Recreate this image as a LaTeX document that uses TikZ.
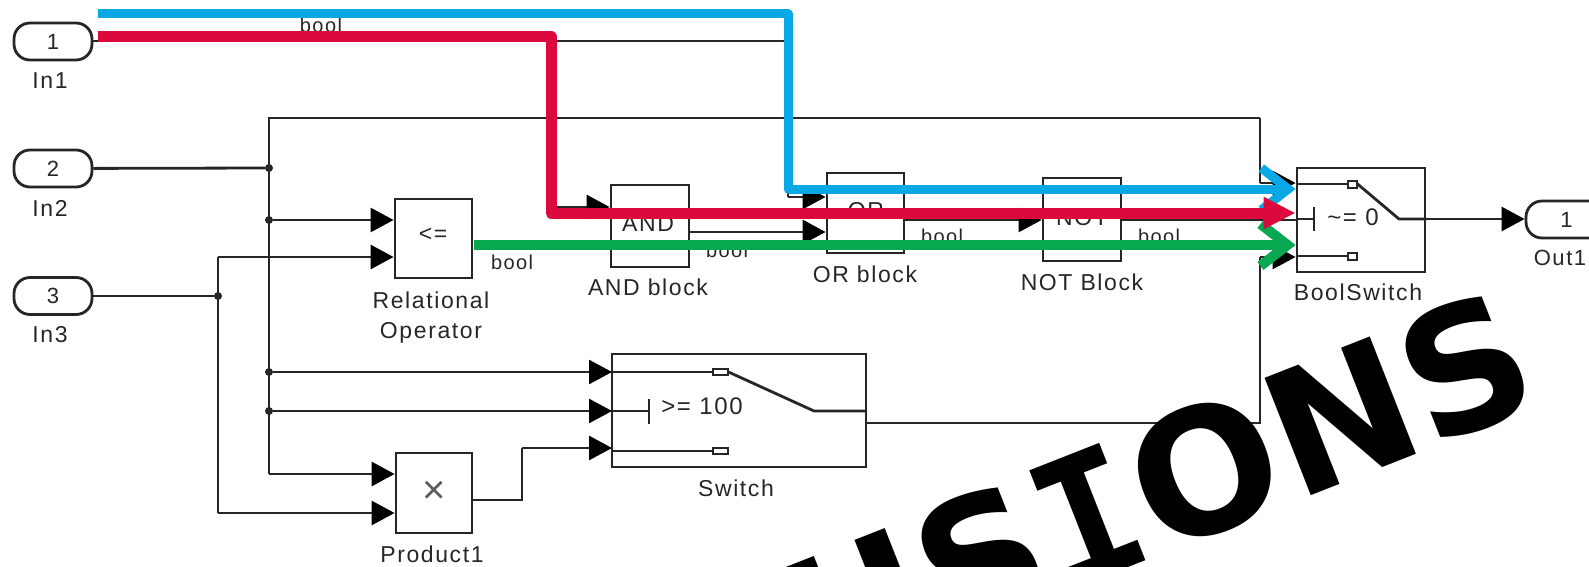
\documentclass[tikz,border=0pt]{standalone}
\usepackage{fontspec}
\setmainfont{Liberation Sans}[LetterSpace=7]
\newfontfamily\wmfont{DejaVu Sans}
\newfontfamily\wmmono{DejaVu Sans Mono}
\usetikzlibrary{arrows.meta}
\definecolor{ink}{HTML}{262626}
\definecolor{cblue}{HTML}{0BA8E6}
\definecolor{cred}{HTML}{DC0A3C}
\definecolor{cgreen}{HTML}{08A850}
\tikzset{
  wire/.style={draw=ink,line width=2.8pt},
  arr/.style={wire,-{Triangle[length=23pt,width=24pt,color=black]}},
  blk/.style={draw=ink,line width=2.8pt,fill=white,inner sep=0pt},
  pill/.style={draw=ink,line width=2.8pt,rounded corners=16pt,minimum width=78pt,minimum height=37pt,inner sep=0pt,text=ink,font=\fontsize{22}{24}\selectfont},
  lbl/.style={text=ink,inner sep=0pt,font=\fontsize{23}{26}\selectfont},
  tag/.style={text=ink,inner sep=0pt,font=\fontsize{20}{24}\selectfont},
  port/.style={draw=ink,line width=2pt,fill=white,minimum width=15pt,minimum height=6pt,inner sep=0pt},
  dot/.style={circle,fill=ink,minimum size=8pt,inner sep=0pt},
  thick line/.style={line cap=butt,line join=round},
  barb/.style={thick line,-{Straight Barb[length=27pt,width=42pt]}},
}
\begin{document}
\begin{tikzpicture}[x=1pt,y=-1pt]
\useasboundingbox (0,0) rectangle (1589,567);
\clip (0,0) rectangle (1589,567);
% input / output ports
\node[pill] (in1) at (53,41.5) {1};
\node[pill] (in2) at (53,168.5) {2};
\node[pill] (in3) at (53,296) {3};
\node[pill,minimum width=90pt] (out1) at (1571,219.5) {\hspace*{-9pt}1};
\node[lbl] (lin1) at (50,81) {In1};
\node[lbl] (lin2) at (50,208) {In2};
\node[lbl] (lin3) at (50,335) {In3};
\node[lbl,font=\fontsize{22}{26}\selectfont] (lout1) at (1560,258) {Out1};
% blocks
\node[blk,minimum width=77pt,minimum height=79pt] (rel) at (433.5,238.5) {};
\node[blk,minimum width=78pt,minimum height=82pt] (and) at (650,226) {};
\node[blk,minimum width=77pt,minimum height=80pt] (or) at (865.5,213) {};
\node[blk,minimum width=78pt,minimum height=83pt] (not) at (1082,219.5) {};
\node[blk,minimum width=128pt,minimum height=104pt] (bsw) at (1361,220) {};
\node[blk,minimum width=254pt,minimum height=113pt] (sw) at (739,410.5) {};
\node[blk,minimum width=76pt,minimum height=80pt] (prod) at (434,493) {};
% block texts
\node[lbl] (trel) at (433,235) {<=};
\node[lbl] (tand) at (648,224) {AND};
\node[lbl] (tor) at (866,211) {OR};
\node[lbl] (tnot) at (1082,218) {NOT};
\node[lbl,font=\fontsize{40}{42}\selectfont,text=ink!75] (tprod) at (434,492) {×};
\node[lbl] (lrel) at (431,300) {Relational};
\node[lbl] (lrel2) at (431,333) {Operator};
\node[lbl] (land) at (648,287) {AND block};
\node[lbl] (lor) at (865,274) {OR block};
\node[lbl] (lnot) at (1082,282) {NOT Block};
\node[lbl] (lbsw) at (1358,292) {BoolSwitch};
\node[lbl] (lsw) at (736,488) {Switch};
\node[lbl] (lprod) at (432,554) {Product1};
% signal labels
\node[tag] (b1) at (321,25) {bool};
\node[tag] (b2) at (512,262) {bool};
\node[tag] (b3) at (727,250) {bool};
\node[tag] (b4) at (942,236) {bool};
\node[tag] (b5) at (1159,236) {bool};
% switch internals
\coordinate (swa) at (612,372);
\coordinate (swb) at (612,411);
\coordinate (swc) at (612,448);
\node[port] (swp1) at (720,372) {};
\node[port] (swp2) at (720,451) {};
\coordinate (swpiv) at (814,411);
\coordinate (swbar) at (649,411);
\coordinate (swbart) at (649,399);
\coordinate (swbarb) at (649,424);
\coordinate (swr) at (866,411);
\draw[wire] (swa) -- (swp1.west);
\draw[wire] (swp1.east) -- (swpiv) -- (swr);
\draw[wire] (612,451) -- (swp2.west);
\draw[wire] (swb) -- (swbar);
\draw[wire] (swbart) -- (swbarb);
\node[lbl,font=\fontsize{24}{26}\selectfont] (tsw) at (702,406) {>= 100};
% boolswitch internals
\node[port,minimum width=9pt,minimum height=7pt] (bp1) at (1352,184) {};
\node[port,minimum width=9pt,minimum height=7pt] (bp2) at (1352,256) {};
\coordinate (bpiv) at (1399,219);
\coordinate (bbar) at (1314,219);
\coordinate (bbart) at (1314,207);
\coordinate (bbarb) at (1314,231);
\draw[wire] (bsw.west |- bp1) -- (bp1.west);
\draw[wire] (bsw.west |- bp2) -- (bp2.west);
\draw[wire] (bp1.east) -- (bpiv) -- (bsw.east |- bpiv);
\draw[wire] (bsw.west |- bbar) -- (bbar);
\draw[wire] (bbart) -- (bbarb);
\node[lbl,font=\fontsize{24}{26}\selectfont] (tbsw) at (1353,217) {\textasciitilde= 0};
% junctions and corners
\coordinate (jtop) at (269,118);
\node[dot] (j2) at (269,168) {};
\node[dot] (j3) at (269,220) {};
\node[dot] (j4) at (269,372) {};
\node[dot] (j5) at (269,411) {};
\coordinate (jbot) at (269,474);
\node[dot] (k1) at (218,296) {};
\coordinate (ktop) at (218,257);
\coordinate (kbot) at (218,513);
\coordinate (ctr) at (1260,118);
\coordinate (ct1) at (1260,183);
\coordinate (cb1) at (1260,257);
\coordinate (cb2) at (1260,423);
\coordinate (sout) at (866,423);
\coordinate (pm1) at (522,500);
\coordinate (pm2) at (522,448);
\coordinate (b788) at (788,41);
\coordinate (o788) at (788,197);
\coordinate (a551) at (551,41);
\coordinate (a551b) at (551,207);
% black wires
\draw[wire] (in1.east |- b788) -- (b788) -- (o788);
\draw[arr] (o788) -- (o788 -| or.west);
\draw[wire] (a551) -- (a551b);
\draw[arr] (a551b) -- (a551b -| and.west);
\draw[wire] (in2) -- (j2);
\draw[wire] (in3) -- (k1);
\draw[wire] (ctr) -- (jtop) -- (jbot);
\draw[arr] (jbot) -- (jbot -| prod.west);
\draw[arr] (j3) -- (j3 -| rel.west);
\draw[arr] (ktop) -- (ktop -| rel.west);
\draw[wire] (ktop) -- (kbot);
\draw[arr] (kbot) -- (kbot -| prod.west);
\draw[arr] (j4) -- (swa);
\draw[arr] (j5) -- (swb);
\draw[wire] (prod.east |- pm1) -- (pm1) -- (pm2);
\draw[arr] (pm2) -- (swc);
\draw[wire] (sout) -- (cb2) -- (cb1);
\draw[arr] (cb1) -- (cb1 -| bsw.west);
\draw[wire] (ctr) -- (ct1);
\draw[arr] (ct1) -- (ct1 -| bsw.west);
\draw[arr] (and.east |- 0,232) -- (or.west |- 0,232);
\draw[arr] (or.east |- 0,220) -- (not.west |- 0,220);
\draw[wire] (not.east |- 0,220) -- (bsw.west |- 0,220);
\draw[arr] (bsw.east |- bpiv) -- (out1.west |- bpiv);
% highlighted signals
\coordinate (cstart) at (98,14);
\coordinate (c1) at (788,14);
\coordinate (c2) at (788,189);
\coordinate (rstart) at (98,37);
\coordinate (r1) at (551,37);
\coordinate (r2) at (551,213);
\coordinate (gstart) at (474,245);
\draw[draw=cblue,line width=9pt,barb] (cstart) -- (c1) -- (c2) -- (c2 -| bsw.west);
\draw[draw=cgreen,line width=10pt,barb] (gstart) -- (gstart -| bsw.west);
\draw[draw=cred,line width=11pt,thick line,-{Triangle[length=32pt,width=30pt]}] (rstart) -- (r1) -- (r2) -- (r2 -| bsw.west);
% watermark
\node[text=black,inner sep=0pt,rotate=21.5,anchor=base east,font=\wmfont\bfseries\fontsize{173}{180}\selectfont] (wm) at (1547,403) {US{\wmmono\bfseries I}ONS};
\end{tikzpicture}
\end{document}
